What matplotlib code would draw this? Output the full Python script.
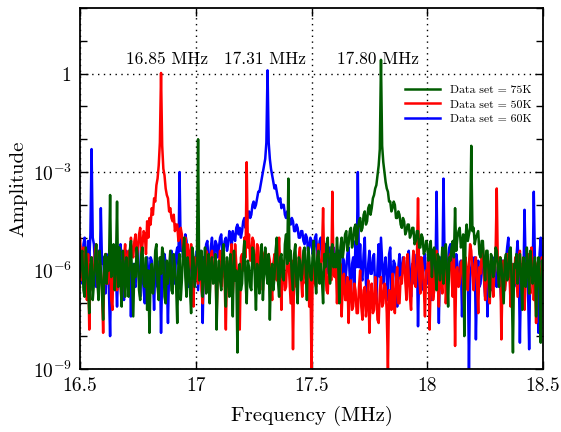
import numpy as np
import matplotlib
matplotlib.use('Agg')
import matplotlib.pyplot as plt
from matplotlib.ticker import FixedLocator, FixedFormatter, NullFormatter
from matplotlib.lines import Line2D

plt.rcParams['font.family'] = ['cmr10', 'DejaVu Serif']
plt.rcParams['mathtext.fontset'] = 'cm'
plt.rcParams['axes.formatter.use_mathtext'] = True

# ---- data: log10(amplitude), one value every 0.005 MHz from 16.500 MHz ----
# (each row = 0.1 MHz)
f_start = 16.5
f_step = 0.005

green_log10 = [
    -6.2, -5.5, -5.4, -6.6, -6.8, -5.3, -5.9, -6.5, -7.3, -5.8, -5.6, -6.9, -6.4, -5.7, -5.2, -6.3, -6.9, -5.4, -6.0, -6.7,
    -7.5, -5.6, -5.5, -6.4, -5.6, -6.0, -3.7, -6.2, -5.8, -5.2, -6.6, -5.9, -3.9, -6.5, -5.3, -6.1, -7.1, -5.4, -6.0, -6.8,
    -5.6, -6.3, -6.8, -5.4, -5.1, -6.2, -7.4, -5.8, -6.2, -5.3, -5.7, -6.6, -6.9, -5.5, -5.3, -6.4, -6.5, -5.6, -7.2, -6.0,
    -7.9, -6.1, -5.8, -6.7, -6.3, -5.4, -5.2, -6.5, -6.9, -5.6, -6.1, -5.3, -5.5, -6.8, -7.0, -5.7, -6.4, -5.9, -5.4, -6.6,
    -6.7, -5.5, -5.9, -6.4, -7.6, -5.8, -5.5, -6.9, -6.3, -5.4, -5.0, -6.2, -6.8, -5.6, -6.0, -6.6, -7.3, -5.3, -5.6, -6.5,
    -6.1, -5.7, -2.0, -6.3, -5.9, -5.4, -6.8, -6.0, -5.3, -6.7, -6.5, -5.5, -7.0, -5.9, -5.6, -6.4, -6.2, -5.5, -7.8, -6.1,
    -5.7, -6.3, -6.6, -5.5, -5.2, -6.2, -7.1, -5.6, -6.0, -6.8, -5.5, -6.1, -7.4, -5.4, -6.3, -6.0, -8.5, -6.2, -5.8, -6.6,
    -6.4, -5.6, -5.1, -6.3, -7.0, -5.7, -5.9, -6.5, -6.6, -5.3, -5.4, -6.2, -7.2, -5.8, -6.1, -6.7, -5.6, -5.2, -6.9, -6.0,
    -5.3, -6.1, -6.4, -5.5, -7.5, -6.0, -5.8, -6.6, -6.2, -5.4, -5.0, -6.3, -6.8, -5.6, -5.5, -6.2, -6.3, -5.2, -4.9, -5.8,
    -3.2, -5.7, -5.4, -6.2, -6.6, -5.5, -5.2, -6.4, -7.0, -5.6, -5.7, -6.3, -6.1, -5.4, -5.3, -6.0, -6.9, -5.3, -5.6, -6.2,
    -6.3, -5.5, -5.1, -6.1, -6.7, -5.6, -5.4, -6.4, -5.8, -6.3, -7.0, -5.5, -5.9, -5.2, -5.0, -6.0, -6.4, -5.4, -5.2, -5.9,
    -5.5, -5.9, -5.0, -5.7, -7.0, -5.3, -5.0, -5.6, -5.3, -4.9, -4.8, -5.4, -5.2, -4.8, -4.7, -5.3, -5.1, -4.7, -4.6, -5.2,
    -4.8, -4.5, -4.4, -4.8, -4.7, -4.3, -4.2, -4.6, -4.5, -4.1, -4.0, -4.3, -4.1, -3.8, -3.7, -3.5, -3.4, -3.1, -2.8, -2.3,
    0.42, -2.2, -2.7, -3.0, -3.3, -3.5, -3.6, -3.9, -3.9, -4.2, -4.1, -3.9, -4.0, -4.4, -4.4, -4.2, -4.3, -4.6, -4.7, -4.4,
    -4.5, -4.9, -4.8, -4.6, -4.6, -5.0, -4.9, -4.7, -4.7, -5.2, -5.1, -4.8, -4.8, -5.3, -5.3, -4.9, -5.0, -5.5, -5.4, -5.1,
    -5.2, -5.7, -5.5, -5.1, -6.2, -5.4, -5.3, -6.0, -6.6, -5.5, -5.6, -6.3, -5.9, -5.3, -6.4, -5.7, -5.2, -6.1, -7.1, -5.6,
    -5.7, -5.3, -5.1, -5.6, -4.1, -5.4, -5.0, -4.8, -4.7, -5.3, -5.2, -4.9, -8.0, -5.0, -4.6, -5.1, -4.9, -4.7, -2.2, -4.8,
    -4.7, -5.2, -5.0, -4.9, -4.8, -5.5, -5.6, -5.1, -5.1, -5.8, -6.3, -5.4, -5.4, -6.1, -6.8, -5.5, -5.6, -6.2, -6.0, -5.3,
    -5.4, -6.0, -6.5, -5.6, -5.8, -6.4, -7.0, -5.7, -5.5, -6.3, -6.2, -5.4, -5.3, -6.6, -8.5, -5.8, -5.9, -5.5, -6.4, -6.0,
    -5.5, -6.2, -7.2, -5.6, -6.0, -6.5, -5.3, -5.9, -6.7, -5.4, -5.8, -6.4, -6.1, -5.6, -7.4, -6.0, -5.6, -6.6, -8.2, -5.7,
    -6.3,
]

red_log10 = [
    -5.0, -5.6, -6.3, -5.3, -5.4, -6.2, -6.9, -5.5, -7.8, -6.0, -5.6, -6.6, -6.1, -5.4, -5.2, -6.3, -6.7, -5.7, -6.0, -6.5,
    -7.9, -5.9, -5.5, -6.4, -6.4, -5.6, -5.8, -6.9, -7.2, -5.5, -5.3, -6.1, -6.6, -5.4, -6.0, -6.5, -7.0, -5.7, -5.6, -5.2,
    -6.2, -5.6, -5.4, -5.9, -5.0, -5.5, -5.6, -5.1, -4.9, -5.7, -5.3, -4.9, -4.7, -5.6, -5.2, -4.8, -4.9, -5.5, -4.5, -5.0,
    -4.4, -4.6, -4.1, -4.3, -3.8, -3.9, -3.4, -3.2, -2.8, -2.1, 0.02, -2.2, -2.9, -3.1, -3.5, -3.7, -3.8, -4.2, -4.1, -4.4,
    -4.5, -4.3, -4.8, -4.6, -4.6, -5.1, -5.0, -4.7, -4.9, -5.4, -5.3, -5.0, -5.6, -5.2, -6.3, -5.5, -5.2, -6.0, -7.1, -5.6,
    -5.8, -6.2, -6.4, -5.5, -5.5, -6.6, -7.0, -5.8, -6.1, -5.4, -5.7, -6.3, -6.8, -5.6, -5.4, -6.0, -6.3, -5.7, -7.4, -6.1,
    -5.9, -5.4, -6.5, -6.0, -5.3, -6.4, -7.8, -5.7, -6.0, -6.6, -5.6, -5.2, -6.7, -6.1, -5.2, -5.8, -6.2, -6.9, -7.8, -5.6,
    -5.5, -6.0, -5.0, -5.6, -2.7, -5.3, -4.9, -5.7, -5.6, -5.0, -5.1, -5.9, -6.2, -5.2, -5.3, -6.1, -5.8, -5.4, -6.6, -5.5,
    -5.4, -6.0, -6.1, -5.5, -5.7, -6.4, -6.9, -5.8, -5.5, -6.2, -6.3, -5.6, -5.0, -6.0, -7.2, -5.7, -5.9, -6.6, -6.5, -5.5,
    -5.6, -6.3, -7.0, -5.7, -8.4, -6.0, -5.8, -6.5, -6.4, -5.6, -5.3, -6.2, -6.8, -5.9, -5.5, -6.4, -6.2, -5.8, -7.1, -6.0,
    -9.0, -6.1, -5.7, -6.4, -6.5, -5.6, -5.2, -6.2, -6.0, -5.5, -4.1, -6.0, -5.9, -6.6, -6.7, -5.8, -5.5, -6.3, -3.6, -6.1,
    -6.2, -5.7, -7.0, -6.0, -6.4, -5.8, -7.4, -6.3, -6.1, -6.9, -6.9, -6.2, -7.6, -6.5, -6.3, -7.2, -7.1, -6.4, -6.6, -7.3,
    -7.3, -6.5, -6.0, -7.1, -7.5, -6.6, -6.5, -7.4, -7.0, -6.3, -7.9, -6.8, -6.4, -7.3, -7.2, -6.2, -6.7, -7.5, -7.6, -6.6,
    -6.2, -7.1, -7.0, -6.4, -6.5, -7.3, -9.0, -6.6, -6.8, -7.2, -6.1, -6.9, -7.3, -6.3, -5.9, -7.0, -7.0, -6.2, -6.4, -5.8,
    -5.6, -6.3, -6.9, -5.5, -6.2, -6.8, -7.2, -5.9, -5.4, -6.4, -6.5, -5.7, -3.8, -6.2, -6.7, -5.6, -5.9, -6.5, -7.4, -6.0,
    -6.0, -5.5, -7.8, -6.2, -5.6, -6.9, -6.6, -5.7, -5.4, -6.3, -7.1, -5.8, -6.3, -6.7, -5.8, -5.4, -7.0, -6.4, -6.1, -5.6,
    -5.5, -6.2, -6.8, -5.6, -8.3, -6.0, -5.9, -6.5, -6.4, -5.8, -5.7, -6.3, -7.2, -5.6, -6.0, -6.6, -5.8, -5.2, -5.4, -6.1,
    -6.6, -5.8, -5.6, -6.4, -7.3, -5.9, -6.1, -5.5, -5.3, -6.2, -6.9, -6.0, -5.8, -6.5, -7.0, -5.7, -6.2, -6.8, -5.9, -5.5,
    -3.5, -6.0, -6.4, -5.6, -8.1, -6.2, -5.7, -6.6, -6.3, -5.5, -5.5, -6.1, -7.1, -5.8, -6.0, -6.4, -5.6, -6.2, -6.8, -5.7,
    -5.4, -6.1, -6.6, -5.7, -7.2, -6.3, -5.8, -5.5, -6.2, -6.7, -5.3, -5.9, -6.9, -6.2, -7.6, -5.8, -5.7, -6.3, -6.4, -5.6,
    -5.9,
]

blue_log10 = [
    -5.3, -5.8, -6.4, -5.2, -5.0, -5.6, -6.8, -5.1, -5.7, -4.9, -2.3, -5.0, -5.2, -5.9, -6.5, -5.6, -5.4, -6.2, -4.1, -5.8,
    -5.6, -6.3, -6.7, -5.5, -5.9, -6.6, -8.0, -5.7, -6.2, -5.4, -5.5, -6.1, -7.1, -5.8, -6.0, -5.2, -5.7, -6.4, -6.9, -5.6,
    -5.4, -5.9, -6.3, -5.6, -7.4, -6.0, -5.8, -6.4, -6.5, -5.5, -5.2, -6.2, -6.8, -5.7, -6.1, -6.6, -7.0, -5.8, -5.6, -6.1,
    -6.4, -5.6, -5.7, -6.2, -7.2, -5.8, -5.9, -6.5, -6.3, -5.7, -7.9, -6.1, -6.2, -5.5, -5.8, -6.4, -7.6, -5.9, -6.0, -5.4,
    -5.6, -6.0, -6.4, -5.5, -5.3, -5.8, -3.0, -5.4, -5.0, -5.6, -5.3, -4.9, -5.1, -5.7, -6.5, -5.4, -5.5, -6.3, -7.0, -5.8,
    -5.8, -5.4, -6.6, -6.0, -5.4, -5.9, -7.6, -5.6, -5.6, -5.2, -5.1, -5.7, -6.2, -5.3, -5.0, -5.5, -5.6, -5.1, -5.2, -5.6,
    -5.3, -5.0, -4.9, -5.5, -5.4, -5.1, -5.0, -5.4, -5.2, -4.8, -4.9, -5.3, -4.8, -5.0, -5.1, -4.7, -4.6, -4.9, -4.7, -5.0,
    -4.8, -4.5, -4.4, -4.7, -4.6, -4.3, -4.2, -4.4, -4.3, -4.0, -3.9, -4.1, -4.0, -3.8, -3.6, -3.6, -3.4, -3.2, -3.0, -2.8,
    -2.6, -2.1, 0.1, -2.1, -2.6, -2.9, -3.1, -3.3, -3.5, -3.4, -3.6, -3.8, -3.9, -3.8, -4.1, -4.0, -4.0, -4.3, -4.4, -4.2,
    -4.3, -4.5, -4.6, -4.4, -4.5, -4.8, -4.8, -4.6, -4.7, -5.0, -5.0, -4.8, -4.8, -5.1, -5.2, -4.9, -5.0, -5.4, -5.3, -5.0,
    -5.1, -5.5, -5.4, -5.0, -4.9, -5.6, -5.5, -5.1, -5.0, -5.7, -5.6, -5.2, -5.2, -6.1, -6.0, -5.4, -5.3, -5.9, -5.8, -5.3,
    -5.5, -6.0, -6.2, -5.4, -5.4, -6.3, -6.6, -5.6, -5.7, -6.5, -6.0, -5.5, -5.3, -6.2, -6.8, -5.8, -5.6, -6.4, -5.1, -5.9,
    -3.0, -5.9, -5.2, -6.2, -6.3, -5.5, -5.0, -6.4, -6.7, -5.8, -5.4, -6.1, -6.1, -5.6, -5.5, -6.6, -7.0, -5.9, -5.2, -6.2,
    -5.0, -5.7, -6.4, -5.9, -5.6, -6.3, -6.9, -5.5, -5.3, -6.6, -6.2, -5.7, -5.8, -6.4, -7.1, -5.9, -5.5, -6.2, -6.0, -5.6,
    -5.7, -6.1, -6.5, -5.6, -5.4, -6.2, -6.8, -5.8, -5.9, -6.4, -6.3, -5.5, -7.7, -6.0, -5.6, -6.6, -6.1, -5.7, -5.5, -6.3,
    -6.4, -5.9, -5.5, -6.5, -6.9, -5.7, -5.8, -6.3, -3.6, -6.0, -7.6, -5.6, -5.9, -6.2, -3.2, -5.8, -6.2, -6.6, -5.7, -5.3,
    -5.2, -5.8, -5.3, -6.1, -6.6, -5.5, -5.8, -6.4, -6.1, -5.7, -7.4, -6.0, -5.6, -6.5, -6.3, -5.9, -9.0, -6.2, -5.9, -5.6,
    -6.0, -5.6, -8.1, -6.2, -5.7, -6.5, -6.4, -5.8, -5.5, -6.3, -6.8, -5.9, -7.4, -6.1, -5.9, -6.6, -6.2, -5.7, -5.6, -6.4,
    -6.5, -5.9, -5.8, -6.4, -7.0, -5.7, -6.1, -6.6, -5.7, -5.3, -5.0, -6.0, -6.6, -5.8, -5.9, -6.5, -6.3, -5.6, -5.1, -5.9,
    -8.2, -6.1, -5.8, -6.4, -4.15, -5.9, -6.0, -6.5, -8.4, -5.7, -5.6, -6.2, -3.6, -5.8, -6.2, -6.6, -7.9, -5.5, -5.0, -5.6,
    -6.1,
]

series_names = ['Data set = 75K', 'Data set = 50K', 'Data set = 60K']
series_colors = ['#005c00', '#ff0000', '#0000ff']

peak_labels = ['16.85 MHz', '17.31 MHz', '17.80 MHz']
peak_label_freqs = [16.877, 17.297, 17.785]
peak_label_level = 1.97

x_ticks = [16.5, 17, 17.5, 18, 18.5]
x_tick_labels = ['16.5', '17', '17.5', '18', '18.5']
y_ticks = [1e-9, 1e-6, 1e-3, 1]
y_tick_labels = [r'$10^{-9}$', r'$10^{-6}$', r'$10^{-3}$', r'$1$']
y_minor_ticks = [10.0 ** k for k in range(-9, 3)]

assert len(green_log10) == len(red_log10) == len(blue_log10) == 401

# ---- figure ----
fig = plt.figure(figsize=(5.61, 4.32), dpi=100)
ax = fig.add_axes([0.1426, 0.146, 0.8254, 0.8355])

freq = f_start + f_step * np.arange(len(green_log10))
data = {
    'Data set = 75K': 10.0 ** np.array(green_log10),
    'Data set = 50K': 10.0 ** np.array(red_log10),
    'Data set = 60K': 10.0 ** np.array(blue_log10),
}

handles = [Line2D([], [], color=c, lw=1.8, label=n)
           for n, c in zip(series_names, series_colors)]

# draw order: blue, red, green (green on top)
for idx in [2, 1, 0]:
    name = series_names[idx]
    ax.plot(freq, data[name], color=series_colors[idx], lw=1.8)

ax.set_yscale('log')
ax.set_xlim(16.5, 18.5)
ax.set_ylim(1e-9, 1e2)

ax.xaxis.set_major_locator(FixedLocator(x_ticks))
ax.xaxis.set_major_formatter(FixedFormatter(x_tick_labels))
ax.yaxis.set_major_locator(FixedLocator(y_ticks))
ax.yaxis.set_major_formatter(FixedFormatter(y_tick_labels))
ax.yaxis.set_minor_locator(FixedLocator(y_minor_ticks))
ax.yaxis.set_minor_formatter(NullFormatter())

ax.tick_params(which='both', direction='in', top=True, right=True,
               labelsize=14, width=1.0, pad=6)
ax.tick_params(which='major', length=6)
ax.tick_params(which='minor', length=5)

for sp in ax.spines.values():
    sp.set_linewidth(1.3)

ax.grid(True, which='major', color='black', linestyle=(0, (1, 3.2)), linewidth=1.0)

for lab, fx in zip(peak_labels, peak_label_freqs):
    ax.text(fx, peak_label_level, lab, ha='center', va='baseline', fontsize=12.5)

ax.set_xlabel('Frequency (MHz)', fontsize=15, labelpad=8)
ax.set_ylabel('Amplitude', fontsize=15, labelpad=4)

ax.legend(handles=handles, loc='upper right', bbox_to_anchor=(0.985, 0.80),
          frameon=False, fontsize=8.5, handlelength=3.0, handletextpad=0.8,
          labelspacing=0.35, borderaxespad=0)

fig.savefig('out.png', dpi=100)
